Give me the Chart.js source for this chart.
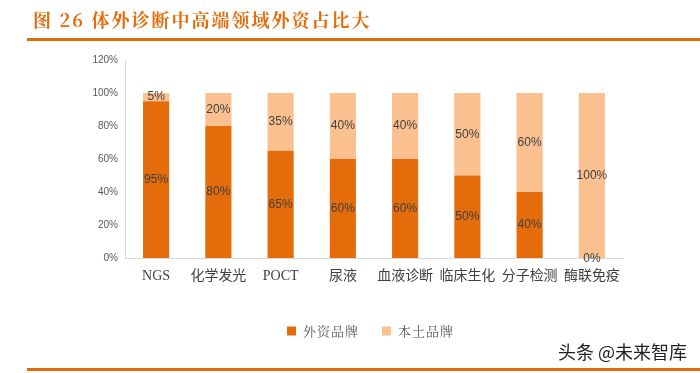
<!DOCTYPE html>
<html><head><meta charset="utf-8">
<script src="https://cdn.jsdelivr.net/npm/chart.js@4/dist/chart.umd.min.js"></script>
<style>
html,body{margin:0;padding:0;background:#fff;}
#wrap{position:relative;width:700px;height:373px;overflow:hidden;}
#title{position:absolute;left:33px;top:6px;font-family:"Noto Serif CJK SC","Noto Sans CJK SC",serif;font-weight:bold;font-size:18px;color:#E36C0A;letter-spacing:2px;white-space:nowrap;}
#line1{position:absolute;left:27px;top:38px;width:673px;height:3px;background:#E36C0A;}
#line2{position:absolute;left:27px;top:368px;width:673px;height:3px;background:#E36C0A;}
#wm{position:absolute;left:558px;top:338px;font-family:"Noto Sans CJK SC",sans-serif;font-size:18px;color:#222;white-space:nowrap;}
canvas{position:absolute;left:0;top:0;}
</style></head>
<body><div id="wrap">
<canvas id="c" width="700" height="373"></canvas>
<div id="title">图 26 体外诊断中高端领域外资占比大</div>
<div id="line1"></div>
<div id="wm">头条 @未来智库</div>
<div id="line2"></div>
</div>
<script>
const categories = ["NGS","化学发光","POCT","尿液","血液诊断","临床生化","分子检测","酶联免疫"];
const foreignShare = [95,80,65,60,60,50,40,0];
const domesticShare = [5,20,35,40,40,50,60,100];
const seriesNames = ["外资品牌","本土品牌"];
const yTicks = [0,20,40,60,80,100,120];

const labelPlugin = {
  id:'segLabels',
  afterDatasetsDraw(chart){
    const ctx = chart.ctx;
    ctx.save();
    ctx.font = '12px "Liberation Sans", Arial, sans-serif';
    ctx.fillStyle = '#404040';
    ctx.textAlign = 'center';
    ctx.textBaseline = 'middle';
    chart.data.datasets.forEach((ds,i)=>{
      const meta = chart.getDatasetMeta(i);
      meta.data.forEach((el,j)=>{
        const v = ds.data[j];
        const p = el.getProps(['x','y','base'],true);
        let y = (p.y + p.base)/2;
        if (v === 0) y = p.base + 1;
        ctx.fillText(v + '%', p.x, y);
      });
    });
    ctx.restore();
  }
};

const legendPlugin = {
  id:'customLegend',
  afterDraw(chart){
    const ctx = chart.ctx;
    ctx.save();
    ctx.font = '13px "Noto Serif CJK SC","Noto Sans CJK SC",serif';
    ctx.letterSpacing = '1px';
    ctx.textBaseline = 'middle';
    ctx.textAlign = 'left';
    const startX = [287, 382];
    const cy = 331;
    chart.data.datasets.forEach((d,i)=>{
      ctx.fillStyle = d.backgroundColor;
      ctx.fillRect(startX[i], cy-4.5, 9, 9);
      ctx.fillStyle = '#595959';
      ctx.fillText(d.label, startX[i]+16, cy);
    });
    ctx.restore();
  }
};

new Chart(document.getElementById('c'),{
  type:'bar',
  data:{
    labels:categories,
    datasets:[
      {label:seriesNames[0],data:foreignShare,backgroundColor:'#E46C0A',barPercentage:0.42,categoryPercentage:1},
      {label:seriesNames[1],data:domesticShare,backgroundColor:'#FAC090',barPercentage:0.42,categoryPercentage:1}
    ]
  },
  options:{
    responsive:false,
    animation:false,
    layout:{padding:{left:0,right:77,top:60,bottom:59}},
    plugins:{
      legend:{display:false},
      tooltip:{enabled:false}
    },
    scales:{
      x:{stacked:true,
        grid:{display:false,drawTicks:false},
        border:{color:'#D9D9D9'},
        ticks:{padding:10,color:'#404040',font:{family:'"Liberation Serif","Noto Sans CJK SC",serif',size:14}},
        afterFit(s){s.height=56;}
      },
      y:{stacked:true,min:0,max:120,
        grid:{display:false,drawTicks:false},
        border:{color:'#D9D9D9'},
        afterBuildTicks(s){s.ticks=yTicks.map(v=>({value:v}));},
        ticks:{padding:7,color:'#595959',font:{family:'"Liberation Sans",Arial,sans-serif',size:10},callback:v=>v+'%'},
        afterFit(s){s.width=125;}
      }
    }
  },
  plugins:[labelPlugin, legendPlugin]
});
</script>
</body></html>
